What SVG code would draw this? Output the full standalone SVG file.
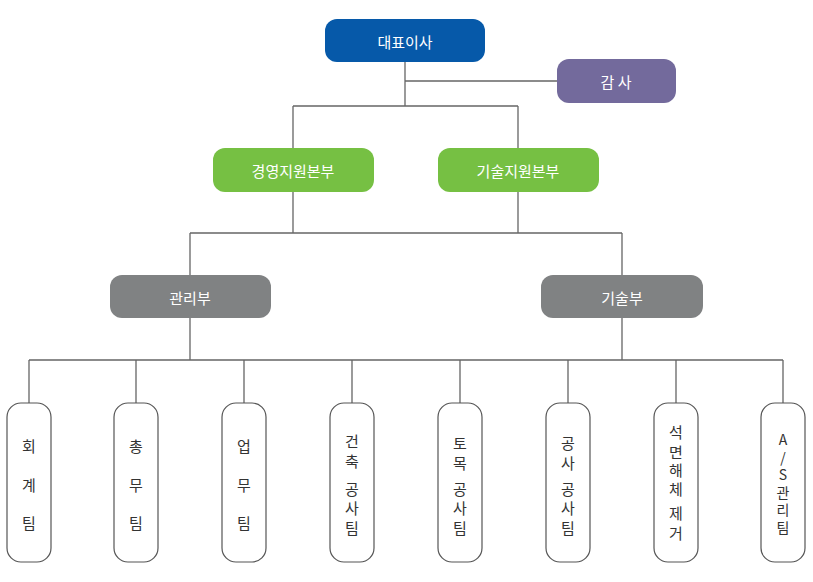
<svg xmlns="http://www.w3.org/2000/svg" width="813" height="582" viewBox="0 0 813 582">
<style>
.lbl{font-family:"Noto Sans CJK KR","Noto Sans",sans-serif;font-size:15px;fill:#fff;text-anchor:middle;dominant-baseline:central}
.tlbl{font-family:"Noto Sans CJK KR","Noto Sans",sans-serif;font-size:15px;fill:#333;text-anchor:middle;dominant-baseline:central}
.small{font-size:14px}
.team{fill:#fff;stroke:#555;stroke-width:1.2}
.conn{fill:none;stroke:#666;stroke-width:1.3}
</style>
<rect width="813" height="582" fill="#fff"/>
<g id="connectors" class="conn">
<path d="M405 62V106M405 81H557M293 106H518M293 106V148M518 106V148"/>
<path d="M293 192V233M518 192V233M190 233H622M190 233V275M622 233V275"/>
<path d="M190 318V360M622 318V360M29 360H783"/>
<path d="M29 360V403M136 360V403M244 360V403M352 360V403M460 360V403M568 360V403M676 360V403M783 360V403"/>
</g>
<g id="ceo"><rect x="325" y="19" width="160" height="43" rx="12" fill="#0659a9"/><text class="lbl" x="405" y="41">대표이사</text></g>
<g id="audit"><rect x="557" y="59" width="119" height="44" rx="12" fill="#736a9c"/><text class="lbl" x="616" y="81">감 사</text></g>
<g id="mgmt-hq"><rect x="213" y="148" width="161" height="44" rx="12" fill="#76c043"/><text class="lbl" x="293" y="170">경영지원본부</text></g>
<g id="tech-hq"><rect x="438" y="148" width="161" height="44" rx="12" fill="#76c043"/><text class="lbl" x="518" y="170">기술지원본부</text></g>
<g id="mgmt-dept"><rect x="110" y="275" width="161" height="43" rx="12" fill="#808283"/><text class="lbl" x="190" y="297">관리부</text></g>
<g id="tech-dept"><rect x="541" y="275" width="162" height="43" rx="12" fill="#808283"/><text class="lbl" x="622" y="297">기술부</text></g>
<g id="team1"><rect class="team" x="7" y="403" width="44" height="159" rx="14"/><text class="tlbl"><tspan x="29" y="445">회</tspan><tspan x="29" y="484">계</tspan><tspan x="29" y="522">팀</tspan></text></g>
<g id="team2"><rect class="team" x="114" y="403" width="44" height="159" rx="14"/><text class="tlbl"><tspan x="136" y="445">총</tspan><tspan x="136" y="484">무</tspan><tspan x="136" y="522">팀</tspan></text></g>
<g id="team3"><rect class="team" x="222" y="403" width="44" height="159" rx="14"/><text class="tlbl"><tspan x="244" y="445">업</tspan><tspan x="244" y="484">무</tspan><tspan x="244" y="522">팀</tspan></text></g>
<g id="team4"><rect class="team" x="330" y="403" width="44" height="159" rx="14"/><text class="tlbl"><tspan x="352" y="440">건</tspan><tspan x="352" y="460">축</tspan><tspan x="352" y="488">공</tspan><tspan x="352" y="507">사</tspan><tspan x="352" y="527">팀</tspan></text></g>
<g id="team5"><rect class="team" x="438" y="403" width="44" height="159" rx="14"/><text class="tlbl"><tspan x="460" y="442">토</tspan><tspan x="460" y="462">목</tspan><tspan x="460" y="488">공</tspan><tspan x="460" y="507">사</tspan><tspan x="460" y="527">팀</tspan></text></g>
<g id="team6"><rect class="team" x="546" y="403" width="44" height="159" rx="14"/><text class="tlbl"><tspan x="568" y="442">공</tspan><tspan x="568" y="462">사</tspan><tspan x="568" y="488">공</tspan><tspan x="568" y="507">사</tspan><tspan x="568" y="527">팀</tspan></text></g>
<g id="team7"><rect class="team" x="654" y="403" width="44" height="159" rx="14"/><text class="tlbl"><tspan x="676" y="431">석</tspan><tspan x="676" y="451">면</tspan><tspan x="676" y="469">해</tspan><tspan x="676" y="488">체</tspan><tspan x="676" y="512">제</tspan><tspan x="676" y="532">거</tspan></text></g>
<g id="team8"><rect class="team" x="761" y="403" width="44" height="159" rx="14"/><text class="tlbl small"><tspan x="783" y="439">A</tspan><tspan x="783" y="456.5">/</tspan><tspan x="783" y="474">S</tspan><tspan x="783" y="491.5">관</tspan><tspan x="783" y="509">리</tspan><tspan x="783" y="526.5">팀</tspan></text></g>
</svg>
